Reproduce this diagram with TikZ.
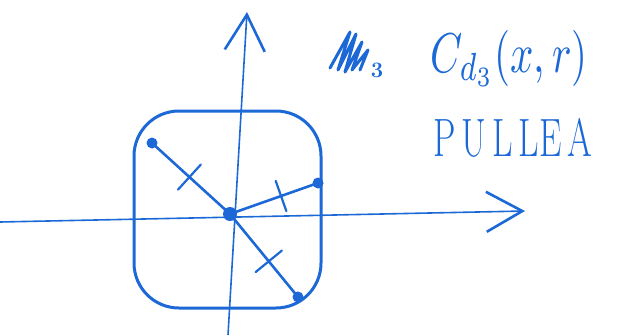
\documentclass[tikz,border=0pt]{standalone}
\usetikzlibrary{calc, arrows.meta}

\definecolor{ink}{RGB}{28,104,214}

\begin{document}
\begin{tikzpicture}[
  x=1pt, y=-1pt,
  axis/.style={draw=ink, line width=1.6pt, -{Straight Barb[length=36pt, width=40pt, line width=2.6pt]}},
  ball/.style={draw=ink, line width=3pt, rounded corners=45pt},
  radius/.style={draw=ink, line width=2.6pt},
  dot/.style={circle, fill=ink, inner sep=0pt, minimum size=11pt},
  tickmark/.style={draw=ink, line width=2.2pt, line cap=round},
  label/.style={text=ink, inner sep=0pt}
]
  \useasboundingbox (0,0) rectangle (623,335);

  % axes
  \coordinate (xs) at (0,222);
  \coordinate (xe) at (525,211);
  \coordinate (ys) at (228,335);
  \coordinate (ye) at (247,12);
  \draw[axis] (xs) -- (xe);
  \draw[axis] (ys) -- (ye);

  % rounded square
  \draw[ball] (134,111) rectangle (321,308);

  % centre and boundary points
  \node[dot, minimum size=14pt] (o) at (230,214) {};
  \node[dot] (a) at (152,143) {};
  \node[dot] (b) at (318,183) {};
  \node[dot] (c) at (298,297) {};

  \draw[radius] (o.center) -- (a.center) coordinate[pos=0.52] (ta);
  \draw[radius] (o.center) -- (b.center) coordinate[pos=0.58] (tb);
  \draw[radius] (o.center) -- (c.center) coordinate[pos=0.57] (tc);

  % equal-length ticks
  \draw[tickmark] ($(ta)!17pt!90:(a)$) -- ($(ta)!17pt!-90:(a)$);
  \draw[tickmark] ($(tb)!16pt!90:(b)$) -- ($(tb)!16pt!-90:(b)$);
  \draw[tickmark] ($(tc)!17pt!90:(c)$) -- ($(tc)!17pt!-90:(c)$);

  % scribbled-out mark
  \draw[ink, line width=3pt, line join=round, line cap=round]
    (330,68) -- (350,32) -- (338,70) -- (356,34) -- (345,72) -- (362,42)
    -- (352,70) -- (368,50) -- (360,70);
  \node[label, font=\fontsize{22}{22}\selectfont\bfseries] (s3) at (377,70) {3};

  % labels
  \node[label, anchor=west] (cd) at (430,58)
    {\scalebox{4.1}[5.6]{$C_{d_3}(x,r)$}};
  \node[label, anchor=west, font=\fontsize{54}{54}\selectfont] (pu) at (433,138)
    {\scalebox{0.66}[1]{P\,U\,L\,LE\,A}};
\end{tikzpicture}
\end{document}
